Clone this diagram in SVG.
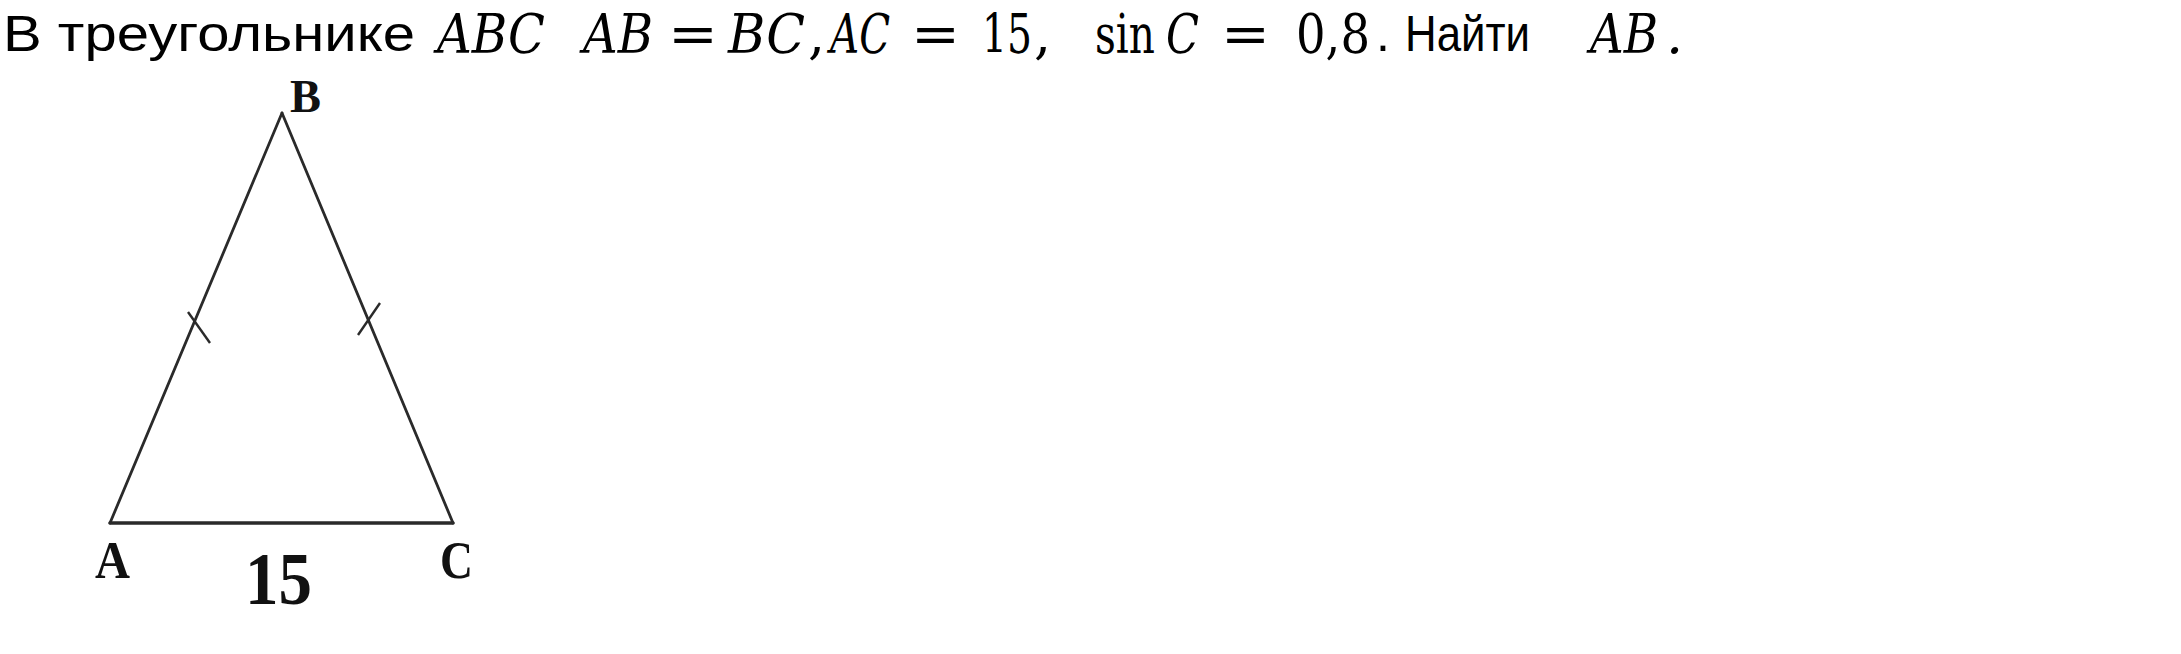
<svg xmlns="http://www.w3.org/2000/svg" width="2181" height="654" viewBox="0 0 2181 654">
<style>
.sans{font-family:"Liberation Sans",Arial,sans-serif;font-size:50px;fill:#000}
.mi{font-family:"DejaVu Serif","Liberation Serif",serif;font-style:italic;font-size:54px;fill:#000}
.mu{font-family:"DejaVu Serif","Liberation Serif",serif;font-size:54px;fill:#000}
.lbl{font-family:"Liberation Serif","Times New Roman",serif;font-weight:bold;fill:#111}
.side{stroke:#2a2a2a;stroke-width:2.8;fill:none;stroke-linecap:round}
.tick{stroke:#2a2a2a;stroke-width:2.4;fill:none}
</style>
<rect width="2181" height="654" fill="#fff"/>
<g id="problem-text">
<text class="sans" x="3" y="51" textLength="412" lengthAdjust="spacingAndGlyphs">В треугольнике</text>
<text class="mi" x="437" y="53" textLength="108" lengthAdjust="spacingAndGlyphs">ABC</text>
<text class="mi" x="583" y="53" textLength="70" lengthAdjust="spacingAndGlyphs">AB</text>
<text class="mu" x="668" y="53" textLength="50" lengthAdjust="spacingAndGlyphs">=</text>
<text class="mi" x="728" y="53" textLength="77" lengthAdjust="spacingAndGlyphs">BC</text>
<text class="mu" x="808" y="53">,</text>
<text class="mi" x="830" y="53" textLength="60" lengthAdjust="spacingAndGlyphs">AC</text>
<text class="mu" x="911" y="53" textLength="49" lengthAdjust="spacingAndGlyphs">=</text>
<text class="mu" x="982" y="53" textLength="50" lengthAdjust="spacingAndGlyphs">15</text>
<text class="mu" x="1034" y="53">,</text>
<text class="mu" x="1095" y="53" textLength="60" lengthAdjust="spacingAndGlyphs">sin</text>
<text class="mi" x="1166" y="53" textLength="33" lengthAdjust="spacingAndGlyphs">C</text>
<text class="mu" x="1221" y="53" textLength="49" lengthAdjust="spacingAndGlyphs">=</text>
<text class="mu" x="1296" y="53" textLength="74" lengthAdjust="spacingAndGlyphs">0,8</text>
<text class="sans" x="1376" y="51">.</text>
<text class="sans" x="1405" y="51" textLength="125" lengthAdjust="spacingAndGlyphs">Найти</text>
<text class="mi" x="1590" y="53" textLength="68" lengthAdjust="spacingAndGlyphs">AB</text>
<text class="mi" x="1666" y="53">.</text>
</g>
<g id="connectors">
<line class="side" x1="110" y1="523" x2="282" y2="113"/>
<line class="side" x1="282" y1="113" x2="453" y2="523"/>
<line class="side" x1="110" y1="523" x2="453" y2="523" style="stroke-width:3.4"/>
<line class="tick" x1="188" y1="312" x2="210" y2="343"/>
<line class="tick" x1="380" y1="303" x2="358" y2="335"/>
</g>
<g id="vertex-B"><text class="lbl" x="290" y="112" font-size="46" textLength="31" lengthAdjust="spacingAndGlyphs">B</text></g>
<g id="vertex-A"><text class="lbl" x="95" y="578" font-size="52" textLength="35" lengthAdjust="spacingAndGlyphs">A</text></g>
<g id="vertex-C"><text class="lbl" x="440" y="578" font-size="52" textLength="33" lengthAdjust="spacingAndGlyphs">C</text></g>
<g id="label-15"><text class="lbl" x="245" y="604" font-size="74" textLength="67" lengthAdjust="spacingAndGlyphs">15</text></g>
</svg>
